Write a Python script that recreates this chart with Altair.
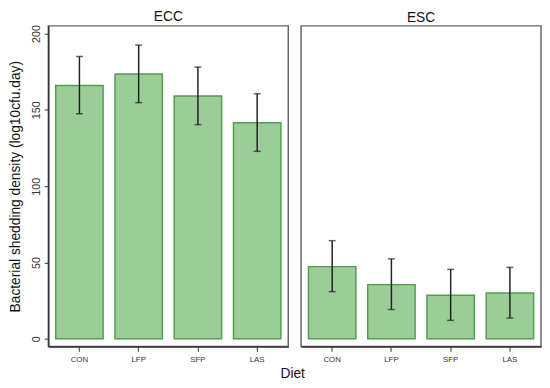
import altair as alt
import pandas as pd

diet = ["CON", "LFP", "SFP", "LAS"]
ecc_mean = [166.0, 173.5, 159.0, 141.5]
ecc_lo = [147.5, 154.7, 140.3, 122.8]
ecc_hi = [185.0, 192.4, 178.0, 160.5]
esc_mean = [47.3, 35.5, 28.5, 30.0]
esc_lo = [30.9, 19.2, 12.1, 13.6]
esc_hi = [64.3, 52.4, 45.5, 46.8]

FONT = "Liberation Sans"
FILL = "#9ccc98"
STROKE = "#4f9f4f"


def panel(title, mean, lo, hi, show_y):
    df = pd.DataFrame({"diet": diet, "mean": mean, "lo": lo, "hi": hi})
    x = alt.X(
        "diet:N",
        sort=diet,
        title=None,
        scale=alt.Scale(paddingInner=0.2, paddingOuter=0.125),
        axis=alt.Axis(labelAngle=0, labelFontSize=8, labelColor="#333",
                      tickSize=5, tickColor="#333", domainColor="#333",
                      domainWidth=1.5, labelPadding=4),
    )
    yscale = alt.Scale(domain=[-5, 205], nice=False, zero=False)
    if show_y:
        yaxis = alt.Axis(values=[0, 50, 100, 150, 200], labelAngle=-90,
                         labelAlign="center", labelBaseline="bottom",
                         labelFontSize=11, labelColor="#333", tickSize=4,
                         tickColor="#333", domainColor="#333", domainWidth=1.5,
                         labelPadding=3, grid=False,
                         title="Bacterial shedding density (log10cfu.day)",
                         titleFontSize=14, titleFontWeight="normal",
                         titleColor="#111", titlePadding=8)
    else:
        yaxis = None
    base = alt.Chart(df)
    bars = base.mark_bar(fill=FILL, stroke=STROKE, strokeWidth=1.5).encode(
        x=x, y=alt.Y("mean:Q", scale=yscale, axis=yaxis), y2=alt.datum(0)
    )
    rule = base.mark_rule(color="#222", strokeWidth=1.5).encode(
        x=alt.X("diet:N", sort=diet), y="lo:Q", y2="hi:Q"
    )
    cap_lo = base.mark_tick(color="#222", thickness=1.5, size=7).encode(
        x=alt.X("diet:N", sort=diet), y="lo:Q"
    )
    cap_hi = base.mark_tick(color="#222", thickness=1.5, size=7).encode(
        x=alt.X("diet:N", sort=diet), y="hi:Q"
    )
    return alt.layer(bars, rule, cap_lo, cap_hi).properties(
        width=244, height=326,
        title=alt.TitleParams(title, fontSize=14, fontWeight="normal",
                              font=FONT, color="#111", offset=1),
    )


left = panel("ECC", ecc_mean, ecc_lo, ecc_hi, True)
right = panel("ESC", esc_mean, esc_lo, esc_hi, False)

chart = alt.hconcat(left, right, spacing=11).properties(
    title=alt.TitleParams("Diet", orient="bottom", anchor="middle",
                          fontSize=14, fontWeight="normal", font=FONT,
                          color="#111", dx=18, offset=3),
    padding={"left": 0, "top": -3, "right": 0, "bottom": 0},
).configure(font=FONT).configure_view(
    stroke="#666", strokeWidth=1.5
).resolve_scale(y="shared")

chart.save("out.html", embed_options={"renderer": "svg", "actions": False})
